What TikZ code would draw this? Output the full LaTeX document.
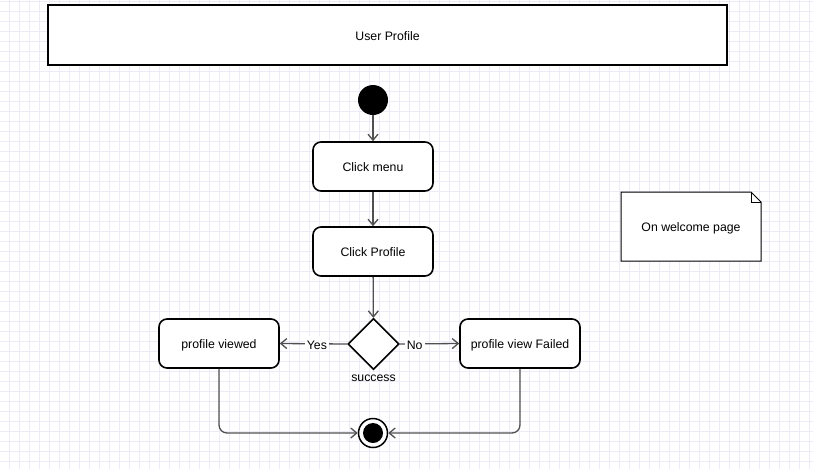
\documentclass[tikz,border=0pt]{standalone}
\usepackage{fontspec}
\setmainfont{Liberation Sans}
\usetikzlibrary{arrows.meta,shapes.geometric,shapes.misc}
\definecolor{gridc}{HTML}{ECEBF8}
\definecolor{linec}{HTML}{505050}
\newcommand{\tlow}[1]{\raisebox{0pt}[10.6pt][0pt]{#1}}
\begin{document}
\begin{tikzpicture}[x=1pt,y=-1pt,
  font=\fontsize{12.3}{14}\selectfont,
  act/.style={draw=black,line width=1.6pt,rounded corners=8pt,fill=white,minimum width=120pt,minimum height=49pt,inner sep=0pt},
  conn/.style={draw=linec,line width=1.3pt,-{Straight Barb[length=6pt,width=10pt,line width=1.3pt]}},
  lbl/.style={fill=white,inner sep=2pt}]
\useasboundingbox (0,0) rectangle (813,469);
\fill[white] (0,0) rectangle (813,469);
\foreach \x in {0,...,80} \draw[gridc,line width=0.8pt] (9.5+10*\x,0) -- (9.5+10*\x,469);
\foreach \y in {0,...,46} \draw[gridc,line width=0.8pt] (0,1.7+10*\y) -- (813,1.7+10*\y);
\node[draw=black,line width=2.5pt,fill=white,minimum width=679pt,minimum height=60pt,inner sep=0pt] (title) at (387.5,35) {\tlow{User Profile}};
\node[circle,fill=black,minimum size=30pt,inner sep=0pt] (start) at (373,100) {};
\node[act] (menu) at (373,166.5) {\tlow{Click menu}};
\node[act] (prof) at (373,251.5) {\tlow{Click Profile}};
\node[diamond,draw=black,line width=1.6pt,fill=white,minimum width=51pt,minimum height=51pt,inner sep=0pt] (dec) at (373.5,344) {};
\node[below=1.5pt] (succ) at (dec.south) {success};
\node[act] (viewed) at (219,343.5) {\tlow{profile viewed}};
\node[act] (failed) at (520,343.5) {\tlow{profile view Failed}};
\node[circle,draw=black,line width=1.5pt,fill=white,minimum size=29pt,inner sep=0pt] (end) at (373,433) {};
\fill[black] (end.center) circle (10pt);
\draw[black,line width=1pt,fill=white] (621,192) -- (751,192) -- (761,202) -- (761,261) -- (621,261) -- cycle;
\draw[black,line width=1pt] (751,192) -- (751,202) -- (761,202);
\node (note) at (691,226.5) {\tlow{On welcome page}};
\draw[conn] (start) -- (menu);
\draw[conn] (menu) -- (prof);
\draw[conn] (prof) -- (dec);
\draw[conn] (dec.west) -- node[lbl,pos=0.45] (yes) {\tlow{Yes}} (viewed.east);
\draw[conn] (dec.east) -- node[lbl,pos=0.25] (no) {\tlow{No}} (failed.west);
\draw[conn,rounded corners=8pt] (viewed.south) |- (end.west);
\draw[conn,rounded corners=8pt] (failed.south) |- (end.east);
\end{tikzpicture}
\end{document}
